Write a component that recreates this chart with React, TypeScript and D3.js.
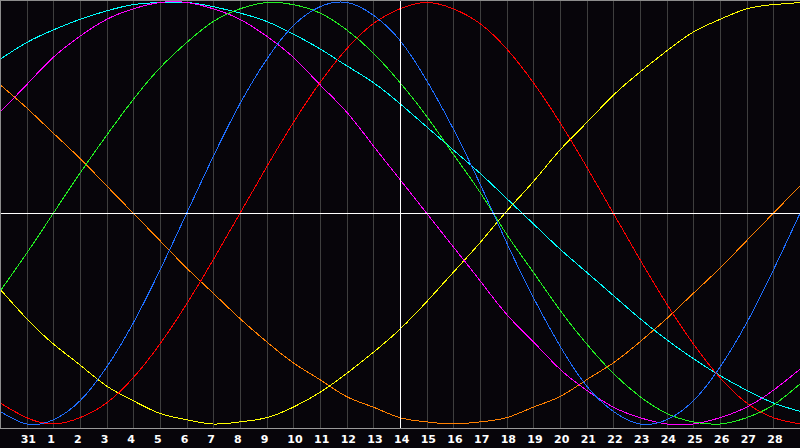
import * as React from "react";
import * as d3 from "d3";

// day index 0..30 (Jan 30 .. Mar 1), today = index 15 (Feb 14)
const dayLabels = ["31", "1", "2", "3", "4", "5", "6", "7", "8", "9", "10", "11", "12", "13", "14", "15", "16", "17", "18", "19", "20", "21", "22", "23", "24", "25", "26", "27", "28"];
const todayIndex = 15;

// cycle values in percent, one per day
const physical = [-94, -100, -98, -89, -73, -52, -27, 0, 27, 52, 73, 89, 98, 100, 94, 82, 63, 40, 14, -14, -40, -63, -82, -94, -100, -98, -89, -73, -52, -27, 0];
const emotional = [-90, -97, -100, -97, -90, -78, -62, -43, -22, 0, 22, 43, 62, 78, 90, 97, 100, 97, 90, 78, 62, 43, 22, 0, -22, -43, -62, -78, -90, -97, -100];
const intellectual = [-37, -19, 0, 19, 37, 54, 69, 81, 91, 97, 100, 99, 95, 87, 76, 62, 46, 28, 10, -10, -28, -46, -62, -76, -87, -95, -99, -100, -97, -91, -81];
const intuitive = [48, 61, 74, 84, 92, 97, 100, 100, 97, 92, 84, 74, 61, 48, 32, 16, 0, -16, -32, -48, -61, -74, -84, -92, -97, -100, -100, -97, -92, -84, -74];
const aesthetic = [-36, -50, -62, -72, -82, -89, -95, -98, -100, -99, -97, -92, -85, -76, -66, -55, -42, -28, -14, 1, 15, 30, 43, 56, 67, 77, 86, 92, 97, 99, 100];
const awareness = [61, 50, 38, 26, 13, 0, -13, -26, -38, -50, -61, -71, -79, -87, -92, -97, -99, -100, -99, -97, -92, -87, -79, -71, -61, -50, -38, -26, -13, 0, 13];
const spiritual = [73, 81, 87, 92, 96, 99, 100, 100, 98, 95, 91, 85, 78, 70, 62, 52, 41, 30, 19, 7, -5, -17, -28, -39, -50, -60, -69, -77, -84, -90, -94];

const series = [
  { name: "awareness", values: awareness, color: "#ff8000" },
  { name: "spiritual", values: spiritual, color: "#00ffff" },
  { name: "aesthetic", values: aesthetic, color: "#ffff00" },
  { name: "intuitive", values: intuitive, color: "#ff00ff" },
  { name: "intellectual", values: intellectual, color: "#22f022" },
  { name: "emotional", values: emotional, color: "#ff0000" },
  { name: "physical", values: physical, color: "#1e6eff" },
];

const W = 800;
const H = 448;
const axisY = 428;

export default function App() {
  const x = d3.scaleLinear().domain([0, 30]).range([0, W]);
  const y = d3.scaleLinear().domain([-100, 100]).range([424, 2.5]);
  const zeroY = Math.round(y(0)) + 0.5;

  const line = d3
    .line<number>()
    .x((_, i) => x(i))
    .y((v) => y(v))
    .curve(d3.curveNatural);

  return (
    <div style={{ position: "absolute", left: 0, top: 0 }}>
      <svg width={W} height={H} style={{ display: "block" }}>
        <rect width={W} height={H} fill="#07050a" />

        {/* day grid */}
        {dayLabels.map((_, k) => {
          const gx = Math.round(x(k + 1)) + 0.5;
          return <line key={k} x1={gx} x2={gx} y1={0} y2={axisY} stroke="#3e3e3e" shapeRendering="crispEdges" />;
        })}

        <clipPath id="plot">
          <rect x={0} y={0} width={W} height={axisY} />
        </clipPath>
        <g clipPath="url(#plot)">
          {series.map((s) => (
            <path key={s.name} d={line(s.values) ?? ""} fill="none" stroke={s.color} strokeWidth={1} shapeRendering="crispEdges" />
          ))}
        </g>

        {/* zero line and today marker */}
        <line x1={0} x2={W} y1={zeroY} y2={zeroY} stroke="#ffffff" shapeRendering="crispEdges" />
        <line x1={x(todayIndex) + 0.5} x2={x(todayIndex) + 0.5} y1={0} y2={axisY} stroke="#ffffff" shapeRendering="crispEdges" />

        {/* frame */}
        <line x1={0} x2={W} y1={0.5} y2={0.5} stroke="#8c8c8c" shapeRendering="crispEdges" />
        <line x1={0.5} x2={0.5} y1={0} y2={axisY} stroke="#8c8c8c" shapeRendering="crispEdges" />
        <line x1={0} x2={W} y1={axisY + 0.5} y2={axisY + 0.5} stroke="#9a9a9a" shapeRendering="crispEdges" />

        {dayLabels.map((d, k) => (
          <text
            key={d + k}
            x={x(k + 1) - 6}
            y={443}
            fill="#ffffff"
            fontFamily="DejaVu Sans, sans-serif"
            fontWeight="bold"
            fontSize={11}
          >
            {d}
          </text>
        ))}
      </svg>
    </div>
  );
}
